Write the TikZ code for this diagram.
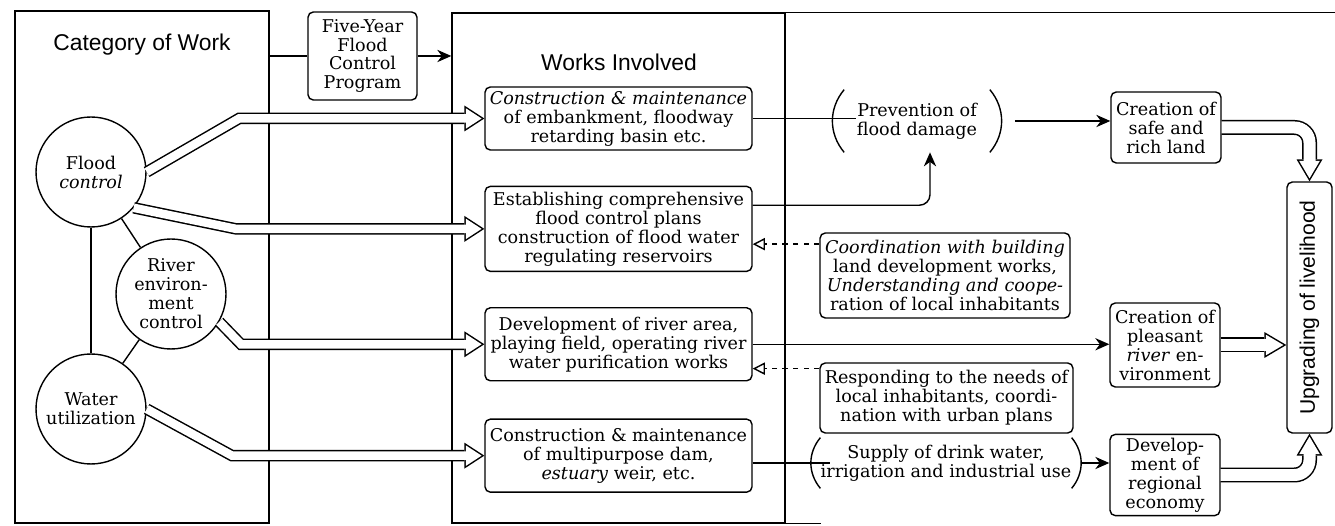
\documentclass[tikz,border=0pt]{standalone}
\usepackage{fontspec}
\setmainfont{DejaVu Serif}
\newfontfamily\headfont{Liberation Sans}
\usepackage{tikz}
\usetikzlibrary{arrows.meta, positioning, calc}

\begin{document}
\begin{tikzpicture}[
  x=0.02cm, y=-0.02cm,
  >={Stealth[length=8pt, width=7pt]},
  every node/.style={font=\fontsize{10}{10.8}\selectfont},
  frame/.style={rectangle, draw, thick, inner sep=0pt},
  head/.style={font=\headfont\fontsize{13}{15}\selectfont},
  area/.style={circle, draw, thick, minimum size=2.2cm, align=center, inner sep=0pt},
  work/.style={rectangle, draw, thick, rounded corners=3pt, minimum width=5.34cm, align=center, inner sep=2pt},
  note/.style={rectangle, draw, thick, rounded corners=3pt, align=center, inner sep=2pt},
  effect/.style={rectangle, draw, thick, rounded corners=3pt, minimum width=2.2cm, align=center, inner sep=2pt},
  paren/.style={align=center, inner sep=1pt, append after command={(\tikzlastnode.north west) edge[thick, bend right=40] (\tikzlastnode.south west) (\tikzlastnode.north east) edge[thick, bend left=40] (\tikzlastnode.south east)}},
  flow/.style={line width=0.23cm, -{Triangle[length=0.4cm, width=0.52cm, line width=0pt]}, postaction={draw=white, line width=0.17cm, shorten >=0.055cm, -{Triangle[length=0.315cm, width=0.41cm, line width=0pt]}}},
  gain/.style={line width=0.3cm, rounded corners=0.3cm, -{Triangle[length=0.44cm, width=0.52cm, line width=0pt]}, postaction={draw=white, line width=0.24cm, shorten >=0.059cm, -{Triangle[length=0.351cm, width=0.414cm, line width=0pt]}}},
  hint/.style={thick, dashed, -{Triangle[open, length=7pt, width=7pt]}}
]
\useasboundingbox (0,0) rectangle (1335,526);

% frames
\node[frame, minimum width=5.08cm, minimum height=10.24cm] (cat) at (142,267) {};
\node[head] (cathead) at (142,45) {Category of Work};
\node[frame, minimum width=6.66cm, minimum height=10.2cm] (works) at (618.5,268) {};
\node[head] (workshead) at (619,62) {Works Involved};
\draw[thick] (works.north east) -- ++(550,0);
\draw[thick] (works.south east) -- ++(35,0);

% category of work
\node[area] (flood) at (91,172) {Flood\\\textit{control}};
\node[area] (river) at (171,294) {River\\environ-\\ment\\control};
\node[area] (water) at (91,409) {Water\\utilization};
\draw[thick] (flood) -- (water);
\draw[thick] (flood) -- (river);
\draw[thick] (river) -- (water);

\node[work, minimum width=2.18cm, minimum height=1.76cm] (five) at (362.5,56) {Five-Year\\Flood\\Control\\Program};
\draw[thick] (cat.east |- five.west) -- (five.west);
\draw[->, thick] (five.east) -- (five.east -| works.west);

% works involved
\node[work, minimum height=1.26cm] (build) at (618.5,118.5) {\textit{Construction \& maintenance}\\of embankment, floodway\\retarding basin etc.};
\node[work, minimum height=1.7cm, below=0.7cm of build] (plan) {Establishing comprehensive\\flood control plans\\construction of flood water\\regulating reservoirs};
\node[work, minimum height=1.46cm, below=0.7cm of plan] (park) {Development of river area,\\playing field, operating river\\water purification works};
\node[work, minimum height=1.46cm, below=0.74cm of park] (dam) {Construction \& maintenance\\of multipurpose dam,\\\textit{estuary} weir, etc.};

\draw[flow] (flood.east) -- (build.west -| 239,0) -- (build.west);
\draw[flow] (flood.-40) -- (plan.west -| 236,0) -- (plan.west);
\draw[flow] (river.-30) -- (park.west -| 241,0) -- (park.west);
\draw[flow] (water.east) -- (dam.west -| 232,0) -- (dam.west);

% effects
\node[paren, minimum width=2.9cm, minimum height=1.24cm] (prevent) at (917,121) {Prevention of\\flood damage};
\node[note, minimum width=5cm, minimum height=1.7cm] (coord) at (945,275.5) {\textit{Coordination with building}\\land development works,\\\textit{Understanding and coope-}\\ration of local inhabitants};
\node[note, minimum width=5.06cm, minimum height=1.4cm] (needs) at (946.5,398) {Responding to the needs of\\local inhabitants, coordi-\\nation with urban plans};
\node[paren, inner xsep=0pt, minimum width=5cm, minimum height=1cm] (supply) at (946,463) {Supply of drink water,\\irrigation and industrial use};

\node[effect, minimum height=1.42cm] (safe) at (1166,127.5) {Creation of\\safe and\\rich land};
\node[effect, minimum height=1.68cm] (pleasant) at (1165,345) {Creation of\\pleasant\\\textit{river} en-\\vironment};
\node[effect, minimum height=1.6cm] (economy) at (1165,475) {Develop-\\ment of\\regional\\economy};
\node[effect, minimum width=0.9cm, minimum height=5.02cm] (livelihood) at (1309.5,307.5) {\rotatebox{90}{\headfont\fontsize{12}{14}\selectfont Upgrading of livelihood}};

\draw[thick, shorten >=-0.23cm] (build.east) -- (build.east -| prevent.west);
\draw[->, thick, shorten <=0.5cm] (prevent.east) -- (prevent.east -| safe.west);
\draw[->, thick, rounded corners=6pt] (plan.10) -| ([xshift=0.26cm]prevent.south);
\draw[hint] (coord.166) -- (coord.166 -| plan.east);
\draw[->, thick] (park.east) -- (park.east -| pleasant.west);
\draw[hint] (needs.167) -- (needs.167 -| park.east);
\draw[thick, shorten >=-0.19cm] (dam.east |- supply.west) -- (supply.west);
\draw[->, thick, shorten <=0.18cm] (supply.east) -- (supply.east -| economy.west);

\draw[gain] (safe.east) -| (livelihood.north);
\draw[gain] (pleasant.east) -- (pleasant.east -| livelihood.west);
\draw[gain] (economy.east) -| (livelihood.south);
\end{tikzpicture}
\end{document}
